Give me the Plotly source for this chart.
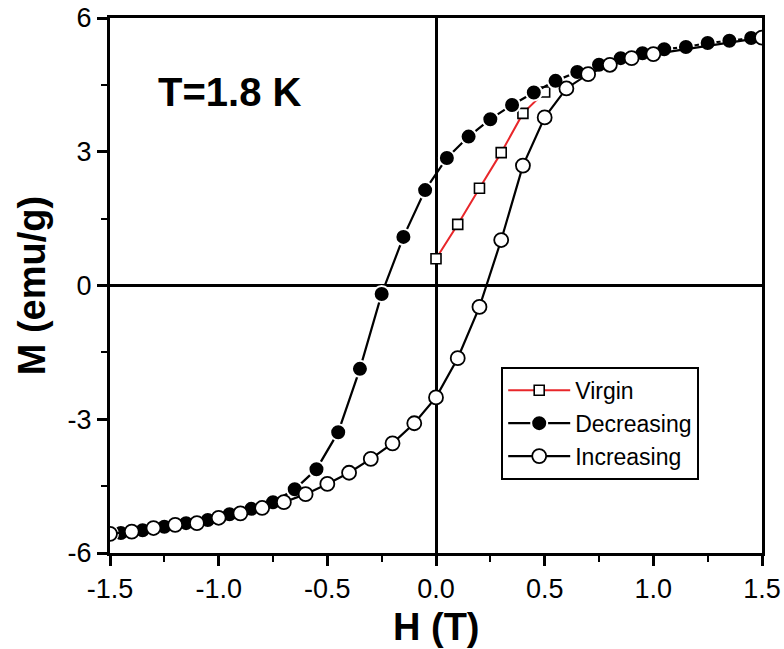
import plotly.graph_objects as go

# Virgin magnetisation curve (field increased from zero)
virgin_h = [0.0, 0.1, 0.2, 0.3, 0.4, 0.5]
virgin_m = [0.60, 1.37, 2.18, 2.98, 3.86, 4.34]

# Descending branch of the loop (1.5 T -> -1.5 T)
dec_h = [1.5, 1.45, 1.35, 1.25, 1.15, 1.05, 0.95, 0.85, 0.75, 0.65, 0.55, 0.45,
         0.35, 0.25, 0.15, 0.05, -0.05, -0.15, -0.25, -0.35, -0.45, -0.55,
         -0.65, -0.75, -0.85, -0.95, -1.05, -1.15, -1.25, -1.35, -1.45, -1.5]
dec_m = [5.56, 5.55, 5.49, 5.44, 5.35, 5.30, 5.21, 5.10, 4.95, 4.79, 4.59, 4.33,
         4.05, 3.73, 3.34, 2.86, 2.14, 1.09, -0.19, -1.87, -3.29, -4.12,
         -4.57, -4.86, -5.01, -5.13, -5.26, -5.33, -5.41, -5.49, -5.55, -5.57]

# Ascending branch of the loop (-1.5 T -> 1.5 T)
inc_h = [-1.5, -1.4, -1.3, -1.2, -1.1, -1.0, -0.9, -0.8, -0.7, -0.6, -0.5, -0.4,
         -0.3, -0.2, -0.1, 0.0, 0.1, 0.2, 0.3, 0.4, 0.5, 0.6, 0.7, 0.8, 0.9, 1.0, 1.5]
inc_m = [-5.57, -5.52, -5.44, -5.37, -5.33, -5.21, -5.11, -4.99, -4.86, -4.68,
         -4.45, -4.20, -3.89, -3.54, -3.09, -2.51, -1.63, -0.48, 1.02, 2.69,
         3.77, 4.42, 4.74, 4.95, 5.10, 5.19, 5.56]

x_ticks = [-1.5, -1.0, -0.5, 0.0, 0.5, 1.0, 1.5]
x_tick_text = ["-1.5", "-1.0", "-0.5", "0.0", "0.5", "1.0", "1.5"]
y_ticks = [-6, -3, 0, 3, 6]
y_tick_text = ["-6", "-3", "0", "3", "6"]

FONT = "Arial, Liberation Sans, sans-serif"

fig = go.Figure()

fig.add_trace(go.Scatter(
    x=virgin_h, y=virgin_m, name="Virgin", mode="lines+markers",
    line=dict(color="#e8262a", width=2),
    marker=dict(symbol="square", size=10, color="white",
                line=dict(color="black", width=1.6)),
))
fig.add_trace(go.Scatter(
    x=dec_h, y=dec_m, name="Decreasing", mode="lines+markers",
    line=dict(color="black", width=2.2),
    marker=dict(symbol="circle", size=16, color="black",
                line=dict(color="white", width=2)),
))
fig.add_trace(go.Scatter(
    x=inc_h, y=inc_m, name="Increasing", mode="lines+markers",
    line=dict(color="black", width=2.2),
    marker=dict(symbol="circle", size=14, color="white",
                line=dict(color="black", width=1.8)),
))

axis_common = dict(
    showline=True, linecolor="black", linewidth=3, mirror=True,
    ticks="outside", ticklen=10, tickwidth=2.5, tickcolor="black",
    showgrid=False, zeroline=True, zerolinecolor="black", zerolinewidth=2.5,
    tickfont=dict(family=FONT, size=27, color="black"),
    automargin=False,
)

fig.update_xaxes(
    range=[-1.5, 1.5], tickvals=x_ticks, ticktext=x_tick_text,
    minor=dict(ticks="outside", dtick=0.25, tick0=0, ticklen=6, tickwidth=2,
               tickcolor="black", showgrid=False),
    **axis_common,
)
fig.update_yaxes(
    range=[-6, 6], tickvals=y_ticks, ticktext=y_tick_text,
    minor=dict(ticks="outside", dtick=1.5, tick0=0, ticklen=6, tickwidth=2,
               tickcolor="black", showgrid=False),
    **axis_common,
)

fig.add_annotation(text="<b>T=1.8 K</b>", xref="paper", yref="paper",
                   x=0.07, y=0.861, xanchor="left", yanchor="middle",
                   showarrow=False, font=dict(family=FONT, size=40, color="black"))
fig.add_annotation(text="<b>M (emu/g)</b>", xref="paper", yref="paper",
                   x=-0.12, y=0.5, xanchor="center", yanchor="middle",
                   textangle=-90, showarrow=False,
                   font=dict(family=FONT, size=38, color="black"))
fig.add_annotation(text="<b>H (T)</b>", xref="paper", yref="paper",
                   x=0.5, y=-0.138, xanchor="center", yanchor="middle",
                   showarrow=False, font=dict(family=FONT, size=38, color="black"))

fig.update_layout(
    width=784, height=649,
    margin=dict(l=110, r=22, t=18, b=96, autoexpand=False),
    paper_bgcolor="white", plot_bgcolor="white",
    showlegend=True,
    legend=dict(
        x=0.6, y=0.348, xanchor="left", yanchor="top",
        bgcolor="white", bordercolor="black", borderwidth=2,
        font=dict(family=FONT, size=23, color="black"),
        itemwidth=62, tracegroupgap=0,
    ),
)

fig.write_html("out.html")
